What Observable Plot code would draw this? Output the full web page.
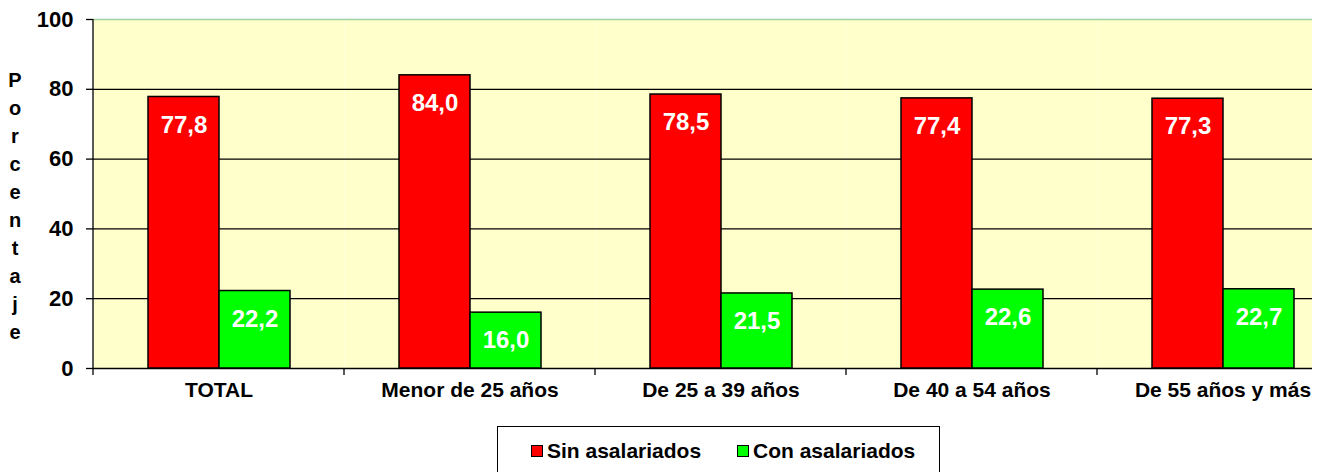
<!DOCTYPE html>
<html>
<head>
<meta charset="utf-8">
<script src="https://cdn.jsdelivr.net/npm/d3@7"></script>
<script src="https://cdn.jsdelivr.net/npm/@observablehq/plot@0.6"></script>
<style>
  html, body { margin: 0; padding: 0; background: #ffffff; overflow: hidden; }
  body { font-family: "Liberation Sans", Arial, sans-serif; }
  #wrap { position: relative; width: 1330px; height: 472px; }
  #chart { position: absolute; left: 0; top: 0; width: 1312px; height: 420px; overflow: hidden; }
  #chart svg { max-width: none !important; }
  #ytitle { position: absolute; left: 5px; top: 66px; width: 20px; text-align: center;
            font-weight: bold; font-size: 20px; line-height: 28px; color: #000; }
  #legend { position: absolute; left: 497px; top: 426px; width: 441px; height: 60px;
            border: 1.5px solid #000; background: #fff; }
  .item { position: absolute; top: 12px; font-weight: bold; font-size: 21px; color: #000;
          display: flex; align-items: center; }
  .sw { width: 10px; height: 10px; border: 1px solid #000; margin-right: 4px; }
</style>
</head>
<body>
<div id="wrap">
  <div id="chart"></div>
  <div id="ytitle"></div>
  <div id="legend"></div>
</div>
<script>
const categories = ["TOTAL", "Menor de 25 años", "De 25 a 39 años", "De 40 a 54 años", "De 55 años y más"];
const series = ["Sin asalariados", "Con asalariados"];
const sinValues = [77.8, 84.0, 78.5, 77.4, 77.3];
const conValues = [22.2, 16.0, 21.5, 22.6, 22.7];
const colors = ["#FF0000", "#00FF00"];
const yTicks = [0, 20, 40, 60, 80, 100];
const yTitle = "Porcentaje";

const data = categories.flatMap((c, i) => [
  {cat: c, series: series[0], value: sinValues[i]},
  {cat: c, series: series[1], value: conValues[i]}
]);
const fmt = v => v.toFixed(1).replace(".", ",");

const plot = Plot.plot({
  width: 1349,
  height: 410,
  marginLeft: 92,
  marginRight: 0,
  marginTop: 19,
  marginBottom: 42,
  style: {fontFamily: "'Liberation Sans', Arial, sans-serif", background: "transparent", color: "#000", maxWidth: "none"},
  fx: {domain: categories, padding: 0, label: null},
  x: {domain: series, paddingInner: 0, paddingOuter: 0.7465, axis: null},
  y: {domain: [0, 100], label: null},
  color: {domain: series, range: colors},
  marks: [
    Plot.frame({fill: "#FFFFCC", stroke: null}),
    Plot.ruleY(yTicks.filter(t => t < 100), {stroke: "#000", strokeWidth: 1.3}),
    Plot.ruleY([100], {stroke: "#9FD09F", strokeWidth: 1.5}),
    Plot.barY(data, {fx: "cat", x: "series", y: "value", fill: "series", stroke: "#000", strokeWidth: 1.5}),
    Plot.text(data, {fx: "cat", x: "series", y: "value", text: d => fmt(d.value), dy: 28,
      fill: "#fff", fontSize: 24, fontWeight: "bold"}),
    Plot.axisY({ticks: yTicks, tickSize: 7, tickPadding: 13, fontSize: 22, fontWeight: "bold",
      stroke: "#000", strokeWidth: 1.3, label: null}),
    Plot.axisFx({anchor: "bottom", tickSize: 0, tickPadding: 14, fontSize: 21, fontWeight: "bold", label: null})
  ]
});
plot.style.maxWidth = "none";

// Category boundary ticks and left axis line, positioned through the plot's own scales
const fx = plot.scale("fx");
const y = plot.scale("y");
const svg = d3.select(plot);
const g = svg.append("g").attr("stroke", "#000").attr("stroke-width", 1.3);
const bounds = categories.map(c => fx.apply(c)).concat([fx.apply(categories[categories.length - 1]) + fx.bandwidth]);
bounds.forEach(b => {
  g.append("line").attr("x1", b).attr("x2", b).attr("y1", y.apply(0)).attr("y2", y.apply(0) + 7);
});
g.append("line").attr("x1", bounds[0]).attr("x2", bounds[0]).attr("y1", y.apply(100)).attr("y2", y.apply(0));

document.getElementById("chart").appendChild(plot);

document.getElementById("ytitle").innerHTML = yTitle.split("").join("<br>");

const legend = document.getElementById("legend");
const legendLefts = [33, 239];
series.forEach((s, i) => {
  const it = document.createElement("div");
  it.className = "item";
  it.style.left = legendLefts[i] + "px";
  it.innerHTML = `<span class="sw" style="background:${colors[i]}"></span><span>${s}</span>`;
  legend.appendChild(it);
});
</script>
</body>
</html>
